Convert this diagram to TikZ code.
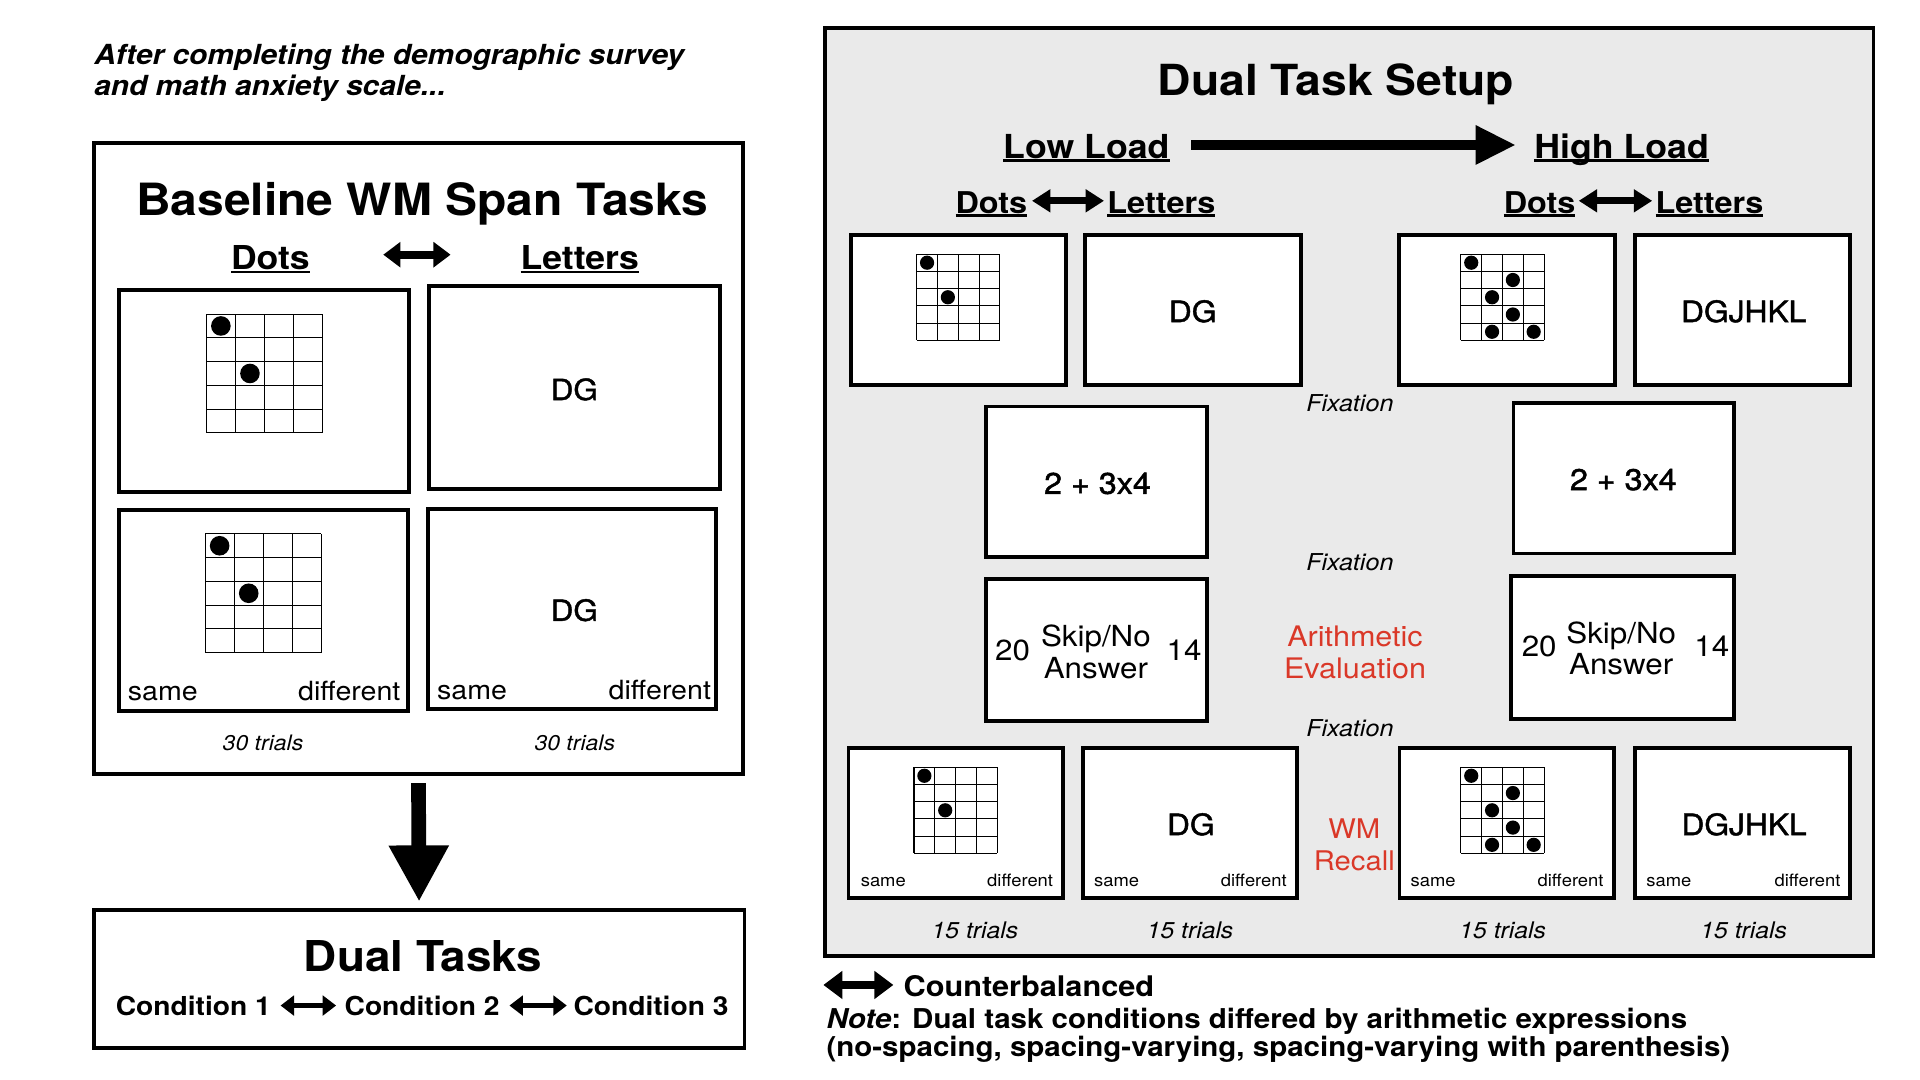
\documentclass[tikz,border=0pt]{standalone}
\usepackage{fontspec}
\setmainfont{TeX Gyre Heros}[FakeStretch=1.08]
\newfontfamily\medfont{TeX Gyre Heros}[FakeStretch=1.08,FakeBold=1.5]
\usetikzlibrary{arrows.meta}
\definecolor{panelgray}{RGB}{234,234,234}
\definecolor{evalred}{RGB}{218,56,40}
\newcommand\fsz[1]{\fontsize{#1}{#1}\selectfont}
\newsavebox\ulbox
\newcommand\ulx[1]{\sbox\ulbox{#1}\rlap{\rule[-0.11em]{\wd\ulbox}{0.075em}}\usebox\ulbox}
% grid: x-left, y-top, width, height, dot radius, list col/row
\newcommand\mkgrid[6]{%
  \foreach \gi in {0,...,4} {\draw[gridln] ({#1+\gi*#3/4},#2) -- ({#1+\gi*#3/4},{#2+#4});}
  \foreach \gj in {0,...,5} {\draw[gridln] (#1,{#2+\gj*#4/5}) -- ({#1+#3},{#2+\gj*#4/5});}
  \foreach \gc/\gr in {#6} {\fill ({#1+(\gc+0.5)*#3/4},{#2+(\gr+0.5)*#4/5}) circle[radius=#5];}
}
\begin{document}
\begin{tikzpicture}[x=1pt,y=-1pt,
  card/.style={draw, line width=3.2pt, fill=white, inner sep=0pt},
  frame/.style={draw, line width=3.2pt, inner sep=0pt},
  txt/.style={inner sep=0pt, outer sep=0pt, anchor=base},
  gridln/.style={line width=0.9pt},
  swapL/.style={line width=6.5pt, arrows={Triangle[length=14pt,width=20pt]-Triangle[length=14pt,width=20pt]}},
  swapR/.style={line width=5.5pt, arrows={Triangle[length=15pt,width=18pt]-Triangle[length=15pt,width=18pt]}},
  swapC/.style={line width=3.5pt, arrows={Triangle[length=11pt,width=16pt]-Triangle[length=11pt,width=16pt]}},
  swapN/.style={line width=6.5pt, arrows={Triangle[length=15.5pt,width=22pt]-Triangle[length=15.5pt,width=22pt]}},
  loadarrow/.style={line width=8.2pt, arrows={-Triangle[length=33pt,width=30pt]}},
  downarrow/.style={line width=12pt, arrows={-Triangle[length=46pt,width=46pt]}}
]
\useasboundingbox (0,0) rectangle (1568,882);

% ---------------- left side ----------------
\node[txt, anchor=base west, font=\fsz{22.6}\bfseries\itshape] (intro1) at (77,53) {After completing the demographic survey};
\node[txt, anchor=base west, font=\fsz{22.6}\bfseries\itshape] (intro2) at (77,78) {and math anxiety scale...};

\node[frame, minimum width=530.5pt, minimum height=515pt] (base) at (341.75,374.5) {};
\node[txt, font=\fsz{36.3}\bfseries] (basetitle) at (344.8,176) {Baseline WM Span Tasks};
\node[txt, font=\fsz{26.9}\bfseries] (ldots) at (220.8,220) {\ulx{Dots}};
\node[txt, font=\fsz{26.9}\bfseries] (lletters) at (473.5,220) {\ulx{Letters}};
\coordinate (la1) at (313,208);
\coordinate (la2) at (368,208);
\draw[swapL] (la1) -- (la2);

\node[card, minimum width=237pt, minimum height=165pt] (ltl) at (215.5,319) {};
\node[card, minimum width=238pt, minimum height=166pt] (ltr) at (469,316.5) {};
\node[card, minimum width=236pt, minimum height=164pt] (lbl) at (215,498.6) {};
\node[card, minimum width=235pt, minimum height=163.5pt] (lbr) at (467.3,497.3) {};
\mkgrid{168.5}{256.5}{95}{97}{8pt}{0/0,1/2}
\mkgrid{167.5}{436}{95}{97}{8pt}{0/0,1/2}
\node[txt, font=\fsz{23.8}\medfont] (ltrtext) at (469,326.7) {DG};
\node[txt, font=\fsz{23.8}\medfont] (lbrtext) at (469,507) {DG};
\node[txt, anchor=base west, font=\fsz{21.6}] (lbls) at (104.5,572) {same};
\node[txt, anchor=base east, font=\fsz{21.6}] (lbld) at (327,572) {different};
\node[txt, anchor=base west, font=\fsz{21.6}] (lbrs) at (357,571) {same};
\node[txt, anchor=base east, font=\fsz{21.6}] (lbrd) at (580.6,571) {different};
\node[txt, font=\fsz{17.4}\itshape] (ltrials1) at (214.8,613) {30 trials};
\node[txt, font=\fsz{17.4}\itshape] (ltrials2) at (469.4,613) {30 trials};

\node[frame, minimum width=531.5pt, minimum height=113pt] (dual) at (342.25,799.5) {};
\draw[downarrow, shorten <=5.9pt, shorten >=5pt] (base.south) -- (dual.north);
\node[txt, font=\fsz{34.7}\bfseries] (dualtitle) at (345.6,793.5) {Dual Tasks};
\node[txt, anchor=base west, font=\fsz{21.3}\bfseries] (c1) at (94.6,829) {Condition 1};
\node[txt, anchor=base west, font=\fsz{21.3}\bfseries] (c2) at (281.5,829) {Condition 2};
\node[txt, anchor=base west, font=\fsz{21.3}\bfseries] (c3) at (468.4,829) {Condition 3};
\draw[swapC, shorten <=8pt, shorten >=7pt] (c1.east) -- (c2.west);
\draw[swapC, shorten <=8pt, shorten >=5.5pt] (c2.east) -- (c3.west);

% ---------------- right panel ----------------
\node[draw, fill=panelgray, line width=3.2pt, inner sep=0pt, minimum width=856.5pt, minimum height=758.5pt] (panel) at (1101.75,401.75) {};
\node[txt, font=\fsz{35}\bfseries] (dtitle) at (1091,77.6) {Dual Task Setup};
\node[txt, font=\fsz{27}\bfseries] (low) at (887.2,129.3) {\ulx{Low Load}};
\node[txt, font=\fsz{27}\bfseries] (high) at (1324.3,129.3) {\ulx{High Load}};
\coordinate (ll1) at (973,118.4);
\coordinate (ll2) at (1238,118.4);
\draw[loadarrow] (ll1) -- (ll2);

\node[txt, anchor=base east, font=\fsz{24.5}\bfseries] (rdots1) at (838.9,174.2) {\ulx{Dots}};
\node[txt, anchor=base west, font=\fsz{24.5}\bfseries] (rlet1) at (904.4,174.2) {\ulx{Letters}};
\node[txt, anchor=base east, font=\fsz{24.5}\bfseries] (rdots2) at (1286.6,174.2) {\ulx{Dots}};
\node[txt, anchor=base west, font=\fsz{24.5}\bfseries] (rlet2) at (1352,174.2) {\ulx{Letters}};
\coordinate (ra1) at (842.8,164);
\coordinate (ra2) at (901.6,164);
\coordinate (ra3) at (1289.3,164);
\coordinate (ra4) at (1349.3,164);
\draw[swapR] (ra1) -- (ra2);
\draw[swapR] (ra3) -- (ra4);

% top row
\node[card, minimum width=176pt, minimum height=122pt] (rt1) at (782.6,253.2) {};
\node[card, minimum width=176pt, minimum height=122pt] (rt2) at (974.25,253.2) {};
\node[card, minimum width=176pt, minimum height=122pt] (rt3) at (1230.8,253.2) {};
\node[card, minimum width=176pt, minimum height=122pt] (rt4) at (1423,253.2) {};
\mkgrid{748.6}{207.5}{68}{70.5}{5.8pt}{0/0,1/2}
\mkgrid{1193}{207.5}{68}{70.5}{5.8pt}{0/0,2/1,1/2,2/3,1/4,3/4}
\node[txt, font=\fsz{24}\medfont] (rt2text) at (974,263) {DG};
\node[txt, font=\fsz{24}\medfont] (rt4text) at (1424,263) {DGJHKL};

\node[txt, font=\fsz{19}\itshape] (fix1) at (1102.4,336) {Fixation};
\node[txt, font=\fsz{19}\itshape] (fix2) at (1102.4,465.5) {Fixation};
\node[txt, font=\fsz{19}\itshape] (fix3) at (1102.4,601.5) {Fixation};

% arithmetic
\node[card, minimum width=180.5pt, minimum height=122.6pt] (ra) at (895.75,393.3) {};
\node[card, minimum width=180pt, minimum height=123pt] (rb) at (1326,390.5) {};
\node[txt, font=\fsz{24.4}\medfont] (ratext) at (896.3,403.3) {2 + 3x4};
\node[txt, font=\fsz{24.4}\medfont] (rbtext) at (1325.7,400.2) {2 + 3x4};

% answers
\node[card, minimum width=181pt, minimum height=116pt] (rn1) at (895.5,531) {};
\node[card, minimum width=182pt, minimum height=117pt] (rn2) at (1325,529) {};
\node[txt, font=\fsz{23.7}] (n1a) at (827,539) {20};
\node[txt, font=\fsz{23.7}] (n1b) at (895,528) {Skip/No};
\node[txt, font=\fsz{23.7}] (n1c) at (895,554) {Answer};
\node[txt, font=\fsz{23.7}] (n1d) at (967,539) {14};
\node[txt, font=\fsz{23.7}] (n2a) at (1257,536.3) {20};
\node[txt, font=\fsz{23.7}] (n2b) at (1324,525.4) {Skip/No};
\node[txt, font=\fsz{23.7}] (n2c) at (1324,551) {Answer};
\node[txt, font=\fsz{23.7}] (n2d) at (1398,536.3) {14};
\node[txt, font=\fsz{23.1}, text=evalred] (ev1) at (1106.6,528) {Arithmetic};
\node[txt, font=\fsz{23.1}, text=evalred] (ev2) at (1106.6,553.7) {Evaluation};

% bottom row
\node[card, minimum width=175pt, minimum height=122pt] (rb1) at (780.4,672) {};
\node[card, minimum width=175pt, minimum height=122pt] (rb2) at (971.75,672) {};
\node[card, minimum width=175pt, minimum height=122pt] (rb3) at (1230.4,672) {};
\node[card, minimum width=175pt, minimum height=122pt] (rb4) at (1423,672) {};
\mkgrid{746.4}{626.5}{68}{70.5}{5.8pt}{0/0,1/2}
\mkgrid{1193}{626.5}{68}{70.5}{5.8pt}{0/0,2/1,1/2,2/3,1/4,3/4}
\node[txt, font=\fsz{24}\medfont] (rb2text) at (972.5,682) {DG};
\node[txt, font=\fsz{24}\medfont] (rb4text) at (1424.3,682) {DGJHKL};
\node[txt, anchor=base west, font=\fsz{13.9}] (s1) at (703,724) {same};
\node[txt, anchor=base east, font=\fsz{13.9}] (d1) at (860,724) {different};
\node[txt, anchor=base west, font=\fsz{13.9}] (s2) at (893.5,724) {same};
\node[txt, anchor=base east, font=\fsz{13.9}] (d2) at (1050.8,724) {different};
\node[txt, anchor=base west, font=\fsz{13.9}] (s3) at (1152,724) {same};
\node[txt, anchor=base east, font=\fsz{13.9}] (d3) at (1309.5,724) {different};
\node[txt, anchor=base west, font=\fsz{13.9}] (s4) at (1344.5,724) {same};
\node[txt, anchor=base east, font=\fsz{13.9}] (d4) at (1503,724) {different};
\node[txt, font=\fsz{22.1}, text=evalred] (wm1) at (1106,685) {WM};
\node[txt, font=\fsz{22.1}, text=evalred] (wm2) at (1106,710.5) {Recall};
\node[txt, font=\fsz{18.7}\itshape] (t1) at (796.2,766.3) {15 trials};
\node[txt, font=\fsz{18.7}\itshape] (t2) at (971.9,766.3) {15 trials};
\node[txt, font=\fsz{18.7}\itshape] (t3) at (1227.2,766.3) {15 trials};
\node[txt, font=\fsz{18.7}\itshape] (t4) at (1424,766.3) {15 trials};

% legend
\coordinate (lg1) at (672.4,804.4);
\coordinate (lg2) at (729.6,804.4);
\draw[swapN] (lg1) -- (lg2);
\node[txt, anchor=base west, font=\fsz{23.2}\bfseries] (cb) at (738,813.4) {Counterbalanced};
\node[txt, anchor=base west, font=\fsz{22.3}\bfseries] (note1) at (675,839.8) {\textit{Note}: Dual task conditions differed by arithmetic expressions};
\node[txt, anchor=base west, font=\fsz{22.3}\bfseries] (note2) at (675,863) {(no-spacing, spacing-varying, spacing-varying with parenthesis)};
\end{tikzpicture}
\end{document}
